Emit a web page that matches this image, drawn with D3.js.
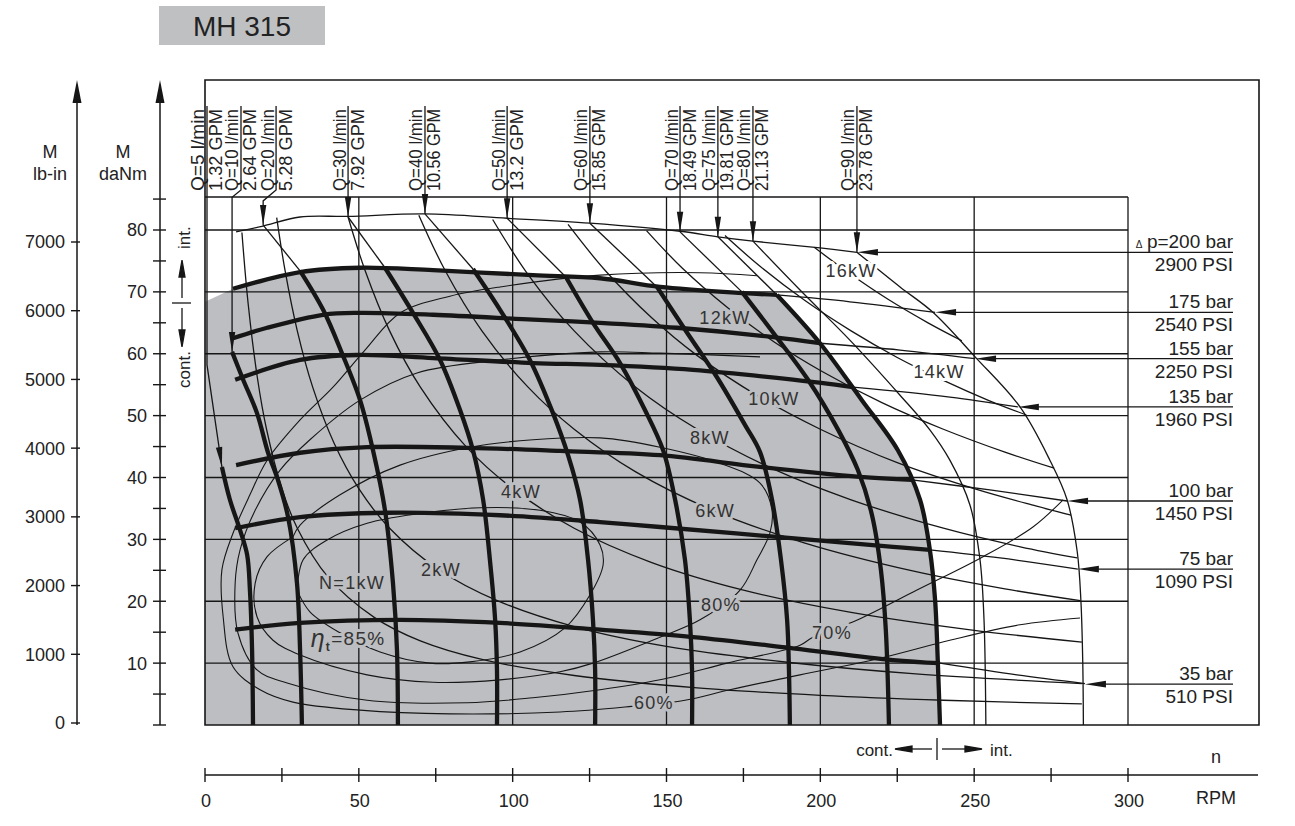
<!DOCTYPE html>
<html><head><meta charset="utf-8">
<script src="https://cdn.jsdelivr.net/npm/d3@7/dist/d3.min.js"></script>
<style>
html,body{margin:0;padding:0;background:#fff;}
svg{display:block;font-family:"Liberation Sans",Arial,Helvetica,sans-serif;}
</style></head><body>
<svg id="chart" width="1295" height="826"></svg>
<script>
// ================= DATA =================
const titleText = "MH 315";
const lbinTicks = [0,1000,2000,3000,4000,5000,6000,7000];
const danmTicks = [10,20,30,40,50,60,70,80];
const danmMinorTicks = [0,5,15,25,35,45,55,65,75,85];
const rpmTicks = [0,50,100,150,200,250,300];
const rpmMinorTicks = [25,75,125,175,225,275];
const gridTorque = [10,20,30,40,50,60,70,80];
const gridSpeed = [50,100,150,200,250,300];

// flow (Q) labels and pointer arrows  [rpm, daNm]
const flowQ   = ["Q=5 l/min","Q=10 l/min","Q=20 l/min","Q=30 l/min","Q=40 l/min","Q=50 l/min","Q=60 l/min","Q=70 l/min","Q=75 l/min","Q=80 l/min","Q=90 l/min"];
const flowGPM = ["1.32 GPM","2.64 GPM","5.28 GPM","7.92 GPM","10.56 GPM","13.2 GPM","15.85 GPM","18.49 GPM","19.81 GPM","21.13 GPM","23.78 GPM"];
const flowLabelRpm = [0.65,11.7,23.1,46.5,71.5,98.2,125.1,154.4,166.7,178.1,211.9];
const flowPointerVia = [[[0.65,58.2]],[[8.8,85.3]],[[18.9,84.7]],[],[],[],[],[],[],[],[]];
const flowArrowTip = [[5.5,41.7],[8.8,60.3],[18.9,80.8],[46.5,82.1],[71.5,82.6],[98.2,81.9],[125.1,81.1],[154.4,79.7],[166.7,78.9],[178.1,78.2],[211.9,76.4]];

// constant-flow curves: intermittent (thin) part and continuous (thick) part
const flowThin = [
  [],
  [],
  [[18.9,80.8],[30.9,73.4]],
  [[46.5,82.1],[58.5,73.9]],
  [[71.5,82.6],[87.1,73.7]],
  [[98.2,81.9],[117.3,72.4]],
  [[125.1,81.1],[146.9,70.8]],
  [[154.4,79.7],[174.5,70.0]],
  [[166.7,78.9],[185.9,69.5]],
  [[178.1,78.2],[193.4,70.3],[209.6,62.2],[225.9,53.3],[235.6,47.7],[242.1,42.8],[248.6,35.6],[251.9,26.7],[253.2,17.0],[253.8,0]],
  [[211.9,76.4],[225.9,70.8],[236.6,66.7],[250.3,59.5],[264.9,51.4],[274.6,42.8],[280.2,36.4],[283.5,28.0],[284.7,20.0],[285.3,10.0],[285.5,0]]
];
const flowThick = [
  [[5.5,41.7],[8.1,36.4],[11.4,31.5],[13.7,27.5],[14.6,21.8],[15.3,12.1],[15.6,0]],
  [[8.8,60.3],[12.4,55.8],[16.9,50.4],[20.5,44.0],[23.7,39.6],[27.0,33.6],[29.9,22.9],[30.9,12.1],[31.5,0]],
  [[30.9,73.4],[38.4,67.1],[44.5,60.1],[50.4,52.5],[54.6,44.4],[58.5,34.7],[61.1,22.9],[62.4,12.1],[62.7,0]],
  [[58.5,73.9],[67.6,66.6],[76.4,59.0],[82.9,50.9],[87.1,44.4],[90.4,36.4],[92.6,26.7],[94.3,17.0],[94.9,8.9],[94.9,0]],
  [[87.1,73.7],[95.9,67.1],[105.6,59.0],[113.1,50.4],[118.0,43.6],[121.9,36.4],[124.5,26.7],[126.1,17.0],[126.8,8.9],[126.8,0]],
  [[117.3,72.4],[126.1,65.0],[134.9,58.5],[143.0,50.9],[148.9,44.4],[152.8,36.4],[156.0,26.7],[157.6,17.0],[158.3,8.9],[158.3,0]],
  [[146.9,70.8],[156.7,63.4],[166.4,56.2],[175.5,48.5],[180.4,44.1],[184.3,36.4],[187.2,26.7],[189.2,17.0],[189.8,8.9],[190.1,0]],
  [[174.5,70.0],[185.3,63.0],[196.0,55.8],[205.8,47.7],[212.2,41.2],[216.8,33.9],[219.7,25.0],[221.3,15.2],[222.3,0]],
  [[185.9,69.5],[199.9,61.7],[213.5,52.5],[225.2,44.4],[232.4,36.4],[235.6,28.3],[237.3,20.2],[238.2,10.0],[238.9,0]],
  [],
  []
];

// Δp = 200 bar envelope (intermittent, thin)
const p200Curve = [[10.1,79.7],[18.5,80.6],[30.9,82.1],[46.5,82.2],[71.5,82.6],[98.2,81.9],[125.1,81.1],[154.4,79.8],[166.7,78.9],[178.1,78.2],[199.9,77.1],[211.9,76.4]];

// pressure labels
const pressBar = ["p=200 bar","175 bar","155 bar","135 bar","100 bar","75 bar","35 bar"];
const pressPSI = ["2900 PSI","2540 PSI","2250 PSI","1960 PSI","1450 PSI","1090 PSI","510 PSI"];
const pressArrowM = [76.4,66.7,59.2,51.4,36.2,25.2,6.6];
const pressArrowRpm = [211.9,237.3,250.3,264.2,280.2,283.7,286.0];

// constant-pressure curves (175..35 bar): thick (continuous) and thin (intermittent)
const pressThick = [
  [[9.1,70.5],[30.9,73.2],[50.4,73.9],[74.1,73.5],[106.6,72.7],[128.4,72.2],[147.9,70.8],[174.9,69.8],[185.9,69.5]],
  [[9.1,62.5],[20.2,64.2],[38.4,66.3],[50.4,66.6],[74.1,66.3],[106.6,65.5],[128.4,65.0],[153.4,64.2],[184.6,62.7],[199.9,61.7]],
  [[9.8,55.8],[30.9,59.0],[49.4,59.8],[74.1,59.3],[106.6,58.5],[128.4,58.2],[158.6,57.4],[191.1,55.8],[210.6,54.6]],
  [[10.1,42.0],[30.9,44.0],[52.7,44.9],[85.2,44.8],[115.4,44.3],[147.9,43.6],[180.4,41.7],[212.9,40.1],[229.8,39.6]],
  [[9.8,31.8],[30.9,33.6],[59.2,34.3],[95.9,33.9],[128.4,32.8],[147.9,32.0],[185.9,30.4],[223.6,28.8],[235.6,28.3]],
  [[9.8,15.4],[30.9,16.5],[63.4,17.0],[95.9,16.5],[128.4,15.4],[158.6,14.2],[191.1,12.4],[223.6,10.5],[238.9,10.0]]
];
const pressThin = [
  [[185.9,69.5],[209.6,68.4],[237.3,66.7]],
  [[199.9,61.7],[225.9,60.6],[250.3,59.2]],
  [[210.6,54.6],[242.1,53.0],[264.2,51.4]],
  [[229.8,39.6],[255.1,38.0],[280.2,36.2]],
  [[235.6,28.3],[258.4,27.0],[283.7,25.2]],
  [[238.9,10.0],[263.9,8.1],[286.0,6.7]]
];
// left edge of the continuous (shaded) area
const contAreaLeft = [[0,0],[0,68.4]];

// power hyperbolas N [kW]
const powerNames = ["N=1kW","2kW","4kW","6kW","8kW","10kW","12kW","14kW","16kW"];
const powerCurves = [
  [[12,79.6],[14,68.2],[17,56.2],[20,47.8],[25,38.2],[30,31.8],[40,23.9],[55,17.4],[70,13.6],[90,10.6],[120,8.0],[160,6.0],[200,4.8],[240,4.0],[285,3.4]],
  [[23.3,82.0],[26,73.5],[30,63.7],[35,54.6],[42,45.5],[50,38.2],[60,31.8],[76,25.1],[95,20.1],[120,15.9],[150,12.7],[190,10.1],[230,8.3],[285,6.7]],
  [[46.5,82.1],[52,73.5],[60,63.7],[70,54.6],[85,44.9],[100,38.2],[120,31.8],[145,26.3],[175,21.8],[210,18.2],[250,15.3],[285,13.4]],
  [[69.5,82.4],[78,73.5],[90,63.7],[105,54.6],[120,47.8],[140,40.9],[165,34.7],[195,29.4],[230,24.9],[260,22.0],[284.5,20.1]],
  [[93.5,81.7],[105,72.8],[120,63.7],[140,54.6],[160,47.8],[185,41.3],[210,36.4],[240,31.8],[265,28.8],[283.5,27.0]],
  [[118,80.9],[130,73.5],[145,65.9],[160,59.7],[180,53.1],[200,47.8],[225,42.4],[250,38.2],[270,35.4],[281.5,33.9]],
  [[143.5,79.9],[155,73.9],[170,67.4],[185,61.9],[200,57.3],[220,52.1],[240,47.8],[260,44.1],[276,41.5]],
  [[169,79.1],[180,74.3],[195,68.6],[210,63.7],[225,59.4],[240,55.7],[255,52.4],[267,50.1]],
  [[198,77.2],[210,72.8],[222,68.8],[235,65.0],[246,62.1]]
];
const powerLabelAt = [[47.8,23.1],[76.7,25.2],[102.7,37.7],[165.8,34.7],[164.1,46.4],[184.9,52.8],[169.0,65.8],[238.6,57.1],[210.0,73.4]];

// total efficiency contours
const effNames = ["85%","80%","70%","60%"];
const effCurves = [
  [[29.9,21.8],[31.9,26.7],[39.7,29.9],[52.7,32.6],[68.9,34.1],[89.4,35.1],[108.9,34.7],[121.9,32.8],[128.4,29.1],[129.4,25.9],[125.1,21.0],[117.0,15.7],[102.4,11.8],[86.1,10.2],[73.1,10.0],[56.9,11.8],[43.9,14.9],[34.1,18.3],[29.9,21.8]],
  [[28.6,30.4],[20.2,27.2],[16.3,22.9],[16.9,17.5],[22.1,13.7],[30.9,11.3],[52.7,8.1],[74.1,6.9],[95.9,7.3],[115.4,8.6],[126.1,10.0],[147.9,14.2],[160.9,17.0],[173.9,21.8],[179.4,26.7],[183.6,31.0],[184.3,34.7],[180.4,39.1],[167.4,42.3],[147.9,44.9],[128.4,46.4],[106.6,46.1],[86.1,44.9],[63.4,42.0],[43.9,37.2],[30.9,32.3],[28.6,30.4]],
  [[278.9,36.4],[269.1,32.0],[252.9,27.2],[231.4,21.8],[212.2,17.0],[197.3,14.1],[193.4,12.9],[169.7,10.0],[147.9,7.3],[128.4,5.7],[106.6,4.4],[85.2,3.6],[52.7,4.0],[26.7,6.8],[16.9,8.9],[10.7,14.9],[9.8,22.9],[11.4,28.3],[16.3,34.7],[24.4,41.2],[34.1,46.1],[50.4,52.5],[68.9,56.9],[95.9,59.0],[128.4,60.3],[147.9,60.1],[180.4,59.5]],
  [[284.4,17.3],[264.9,16.2],[242.1,13.7],[219.4,10.8],[193.4,8.1],[170.6,5.7],[156.0,4.0],[136.5,2.9],[115.4,2.1],[79.6,1.8],[50.4,2.4],[28.6,3.7],[17.9,5.7],[9.1,9.4],[5.9,17.5],[5.5,25.1],[9.1,31.0],[14.6,37.2],[20.2,42.8],[30.9,49.3],[41.6,54.6],[52.0,60.6],[63.4,66.6],[79.6,69.3],[95.9,70.8],[128.4,72.7],[160.9,73.1],[179.4,72.6]]
];
const effLabelAt = [[46.5,13.7],[167.7,19.4],[203.8,14.9],[145.9,3.7]];

// ================= DRAWING =================
const INK = "#161616", SHADE = "#bdbec1";
const svg = d3.select("#chart");
const x = d3.scaleLinear().domain([0,300]).range([205,1128]);
const y = d3.scaleLinear().domain([0,80]).range([725,230]);
const yLb = d3.scaleLinear().domain([0,7000]).range([723,242]);
const curve = d3.line().x(d=>x(d[0])).y(d=>y(d[1])).curve(d3.curveCatmullRom.alpha(0.5));
const straight = d3.line().x(d=>x(d[0])).y(d=>y(d[1]));
const FRAME_L=205, FRAME_R=1259, FRAME_T=80, FRAME_B=725, INNER_T=197;

function arrowHead(g, tx, ty, dx, dy, len=20, half=3.2){
  const n=Math.hypot(dx,dy); dx/=n; dy/=n;
  const bx=tx-dx*len, by=ty-dy*len, px=-dy, py=dx;
  g.append("path").attr("d",`M${tx},${ty}L${bx+px*half},${by+py*half}L${bx-px*half},${by-py*half}Z`).attr("fill",INK);
}

// title
svg.append("rect").attr("x",159).attr("y",6).attr("width",166).attr("height",39).attr("fill","#bfc0c2");
svg.append("text").attr("x",242).attr("y",35.5).attr("text-anchor","middle").attr("font-size",28).attr("fill","#222").text(titleText);

// shaded continuous area: straight left edge, curved top (175 bar) and right (Q=75) edges
const areaPath = straight(contAreaLeft)
  + "L" + curve(pressThick[0]).slice(1)
  + "L" + curve(flowThick[8]).slice(1) + "Z";
svg.append("path").attr("d",areaPath).attr("fill",SHADE);

// frame + grid
const gGrid = svg.append("g").attr("stroke",INK).attr("stroke-width",1.3).attr("fill","none");
gGrid.append("path").attr("d",`M${FRAME_L},${FRAME_B}V${FRAME_T}H${FRAME_R}V${FRAME_B}Z`).attr("stroke-width",1.6);
gGrid.append("line").attr("x1",FRAME_L).attr("x2",x(300)).attr("y1",INNER_T).attr("y2",INNER_T);
gridSpeed.forEach(v=>gGrid.append("line").attr("x1",x(v)).attr("x2",x(v)).attr("y1",INNER_T).attr("y2",FRAME_B));
gridTorque.forEach(v=>gGrid.append("line").attr("x1",FRAME_L).attr("x2",x(300)).attr("y1",y(v)).attr("y2",y(v)));

// left axes
const gAx = svg.append("g").attr("fill","#222").attr("font-size",18);
function vAxis(ax){
  gAx.append("line").attr("x1",ax).attr("x2",ax).attr("y1",100).attr("y2",FRAME_B).attr("stroke",INK).attr("stroke-width",1.5);
  arrowHead(gAx, ax, FRAME_T, 0, -1, 23, 4.5);
}
vAxis(77); vAxis(160);
lbinTicks.forEach(v=>{
  gAx.append("line").attr("x1",71).attr("x2",80).attr("y1",yLb(v)).attr("y2",yLb(v)).attr("stroke",INK).attr("stroke-width",1.4);
  gAx.append("text").attr("x",65).attr("y",yLb(v)).attr("dy","0.36em").attr("text-anchor","end").text(v);
});
danmTicks.concat(danmMinorTicks).forEach(v=>{
  gAx.append("line").attr("x1",153).attr("x2",166).attr("y1",y(v)).attr("y2",y(v)).attr("stroke",INK).attr("stroke-width",1.4);
});
danmTicks.forEach(v=>gAx.append("text").attr("x",147).attr("y",y(v)).attr("dy","0.36em").attr("text-anchor","end").text(v));
gAx.append("text").attr("x",50).attr("y",158).attr("text-anchor","middle").text("M");
gAx.append("text").attr("x",50).attr("y",180).attr("text-anchor","middle").text("lb-in");
gAx.append("text").attr("x",123).attr("y",158).attr("text-anchor","middle").text("M");
gAx.append("text").attr("x",123).attr("y",180).attr("text-anchor","middle").text("daNm");

// int./cont. marker on torque side
const gMk = svg.append("g").attr("stroke",INK).attr("stroke-width",1.3);
gMk.append("line").attr("x1",172).attr("x2",191).attr("y1",303).attr("y2",303);
gMk.append("line").attr("x1",182).attr("x2",182).attr("y1",298).attr("y2",275);
arrowHead(gMk,182,260,0,-1,17,3);
gMk.append("line").attr("x1",182).attr("x2",182).attr("y1",308).attr("y2",332);
arrowHead(gMk,182,347,0,1,17,3);
svg.append("text").attr("transform","translate(190,249) rotate(-90)").attr("font-size",17).attr("fill","#222").text("int.");
svg.append("text").attr("transform","translate(190,388) rotate(-90)").attr("font-size",17).attr("fill","#222").text("cont.");

// bottom axis
const AXY = 775;
const gB = svg.append("g").attr("font-size",18).attr("fill","#222");
gB.append("line").attr("x1",205).attr("x2",1258).attr("y1",AXY).attr("y2",AXY).attr("stroke",INK).attr("stroke-width",1.5);
rpmTicks.concat(rpmMinorTicks).forEach(v=>gB.append("line").attr("x1",x(v)).attr("x2",x(v)).attr("y1",AXY-7).attr("y2",AXY+7).attr("stroke",INK).attr("stroke-width",1.4));
rpmTicks.forEach(v=>gB.append("text").attr("x",x(v)+1).attr("y",807).attr("text-anchor","middle").text(v));
gB.append("text").attr("x",1216).attr("y",804).attr("text-anchor","middle").text("RPM");
gB.append("text").attr("x",1216).attr("y",763).attr("text-anchor","middle").text("n");
// cont./int. speed marker
const gS = svg.append("g").attr("stroke",INK).attr("stroke-width",1.3);
gS.append("line").attr("x1",937).attr("x2",937).attr("y1",738).attr("y2",760);
gS.append("line").attr("x1",910).attr("x2",932).attr("y1",749).attr("y2",749);
arrowHead(gS,895,749,-1,0,17,3);
gS.append("line").attr("x1",942).attr("x2",965).attr("y1",749).attr("y2",749);
arrowHead(gS,982,749,1,0,17,3);
gB.append("text").attr("x",893).attr("y",756).attr("text-anchor","end").attr("font-size",17).text("cont.");
gB.append("text").attr("x",990).attr("y",756).attr("font-size",17).text("int.");

// thin curves
const gThin = svg.append("g").attr("fill","none").attr("stroke",INK).attr("stroke-width",1.3);
powerCurves.forEach(c=>gThin.append("path").attr("d",curve(c)));
effCurves.forEach(c=>gThin.append("path").attr("d",curve(c)).attr("stroke-width",1.1));
gThin.append("path").attr("d",curve(p200Curve));
flowThin.forEach(c=>{ if(c.length) gThin.append("path").attr("d",curve(c)); });
pressThin.forEach(c=>gThin.append("path").attr("d",curve(c)));

// thick curves
const gThick = svg.append("g").attr("fill","none").attr("stroke",INK).attr("stroke-width",4.3).attr("stroke-linejoin","round");
flowThick.forEach(c=>{ if(c.length) gThick.append("path").attr("d",curve(c)); });
pressThick.forEach(c=>gThick.append("path").attr("d",curve(c)));

// flow labels + pointers
const gF = svg.append("g");
flowQ.forEach((q,i)=>{
  const sx = x(flowLabelRpm[i]);
  gF.append("text").attr("transform",`translate(${sx-2.5},191) rotate(-90)`).attr("font-size",18).attr("fill","#222")
    .attr("textLength",82).attr("lengthAdjust","spacingAndGlyphs").text(q);
  gF.append("text").attr("transform",`translate(${sx+15.5},191) rotate(-90)`).attr("font-size",18).attr("fill","#222")
    .attr("textLength",82).attr("lengthAdjust","spacingAndGlyphs").text(flowGPM[i]);
  const pts = [[sx,106],[sx,190]].concat(flowPointerVia[i].map(d=>[x(d[0]),y(d[1])]));
  const tip = [x(flowArrowTip[i][0]), y(flowArrowTip[i][1])];
  pts.push(tip);
  gF.append("path").attr("d",d3.line()(pts)).attr("fill","none").attr("stroke",INK).attr("stroke-width",1.3);
  const prev = pts[pts.length-2];
  arrowHead(gF, tip[0], tip[1], tip[0]-prev[0], tip[1]-prev[1], 20, 3.2);
});

// pressure labels + arrows
const gPr = svg.append("g").attr("font-size",19).attr("fill","#222");
pressBar.forEach((b,i)=>{
  const ly = y(pressArrowM[i]), tx = x(pressArrowRpm[i]);
  gPr.append("line").attr("x1",tx+10).attr("x2",1233).attr("y1",ly).attr("y2",ly).attr("stroke",INK).attr("stroke-width",1.3);
  arrowHead(gPr, tx, ly, -1, 0, 21, 3.3);
  gPr.append("text").attr("x",1233).attr("y",ly-4).attr("text-anchor","end").text(b);
  gPr.append("text").attr("x",1233).attr("y",ly+19).attr("text-anchor","end").text(pressPSI[i]);
});
gPr.append("text").attr("x",1139).attr("y",y(pressArrowM[0])-4).attr("text-anchor","middle").attr("font-size",10).text("\u0394");

// curve labels with halo
const gL = svg.append("g").attr("font-size",18).attr("fill","#333").attr("letter-spacing",1.3)
  .attr("paint-order","stroke").attr("stroke-width",6).attr("stroke-linejoin","round");
powerNames.forEach((n,i)=>{
  const d = powerLabelAt[i];
  gL.append("text").attr("x",x(d[0])).attr("y",y(d[1])).attr("dy","0.36em").attr("text-anchor","middle")
    .attr("stroke", (i>=7)?"#fff":SHADE).text(n);
});
effNames.forEach((n,i)=>{
  const d = effLabelAt[i];
  const t = gL.append("text").attr("x",x(d[0])).attr("y",y(d[1])).attr("dy","0.36em").attr("text-anchor","middle").attr("stroke",SHADE);
  if(i===0){
    t.attr("font-size",19);
    t.append("tspan").attr("font-style","italic").attr("font-size",25).text("\u03B7");
    t.append("tspan").attr("font-size",12).attr("font-weight","bold").attr("dy","0.35em").text("t");
    t.append("tspan").attr("dy","-0.35em").text("="+n);
  } else t.text(n);
});
</script>
</body></html>
